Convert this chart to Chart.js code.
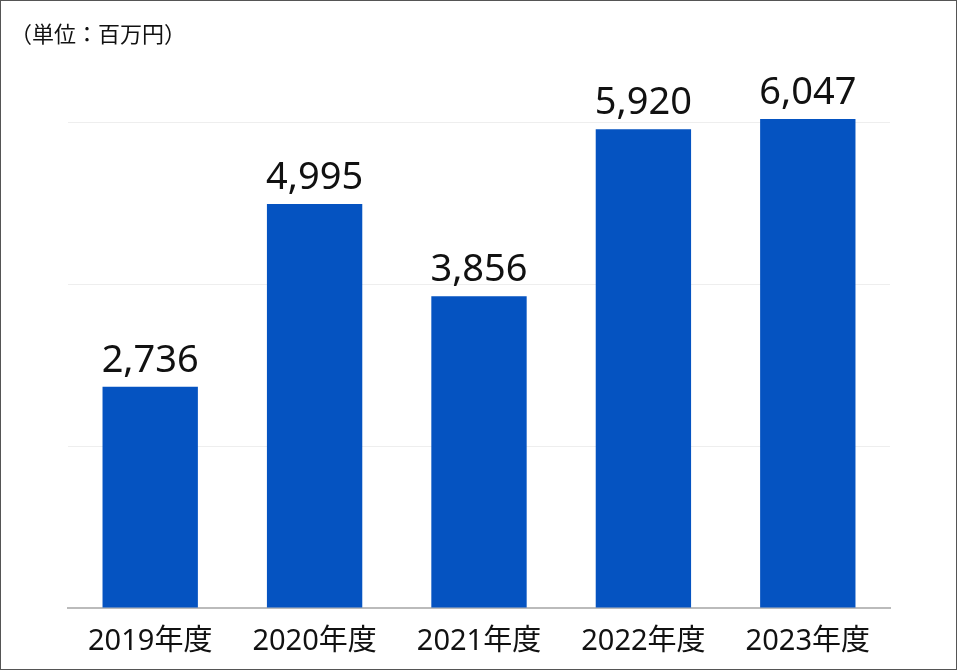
<!DOCTYPE html>
<html>
<head>
<meta charset="utf-8">
<script src="https://cdn.jsdelivr.net/npm/chart.js@4.4.1/dist/chart.umd.min.js"></script>
<style>
  html, body { margin: 0; padding: 0; background: #fff; }
  #wrap { position: relative; width: 955px; height: 668px; border: 1px solid #555; }
  #unit { position: absolute; left: 9px; top: 15px; font: 22px "Noto Sans CJK JP", sans-serif; color: #111; }
  canvas { display: block; }
</style>
</head>
<body>
<div id="wrap">
  <div id="unit">（単位：百万円）</div>
  <canvas id="chart" width="955" height="668"></canvas>
</div>
<script>
const years = ["2019年度", "2020年度", "2021年度", "2022年度", "2023年度"];
const sales = [2736, 4995, 3856, 5920, 6047];
const gridTicks = [0, 2000, 4000, 6000];

// values above the bars
const barLabels = {
  id: "barLabels",
  afterDatasetsDraw(chart) {
    const ctx = chart.ctx;
    const meta = chart.getDatasetMeta(0);
    ctx.save();
    ctx.font = '38px "Noto Sans", sans-serif';
    ctx.fillStyle = "#111";
    ctx.textAlign = "center";
    ctx.textBaseline = "alphabetic";
    meta.data.forEach((bar, i) => {
      ctx.fillText(sales[i].toLocaleString("en-US"), bar.x, bar.y - 15);
    });
    ctx.restore();
  }
};

const ctx = document.getElementById("chart").getContext("2d");
new Chart(ctx, {
  type: "bar",
  data: {
    labels: years,
    datasets: [{
      data: sales,
      backgroundColor: "#0553C1",
      barPercentage: 0.58,
      categoryPercentage: 1
    }]
  },
  options: {
    responsive: false,
    animation: false,
    layout: { padding: { top: 41, right: 66, bottom: 0, left: 0 } },
    plugins: { legend: { display: false }, tooltip: { enabled: false } },
    scales: {
      x: {
        grid: { display: false },
        border: { display: true, color: "#bbb", width: 2 },
        ticks: { color: "#111", padding: 8, font: { family: "'Noto Sans', 'Noto Sans CJK JP'", size: 29 } },
        afterFit(scale) { scale.height = 61; }
      },
      y: {
        min: 0,
        max: 7000,
        afterBuildTicks(scale) { scale.ticks = gridTicks.map(v => ({ value: v })); },
        grid: { color: "#eee", drawTicks: false },
        border: { display: false },
        ticks: { display: false },
        afterFit(scale) { scale.width = 67; }
      }
    }
  },
  plugins: [barLabels]
});
</script>
</body>
</html>
